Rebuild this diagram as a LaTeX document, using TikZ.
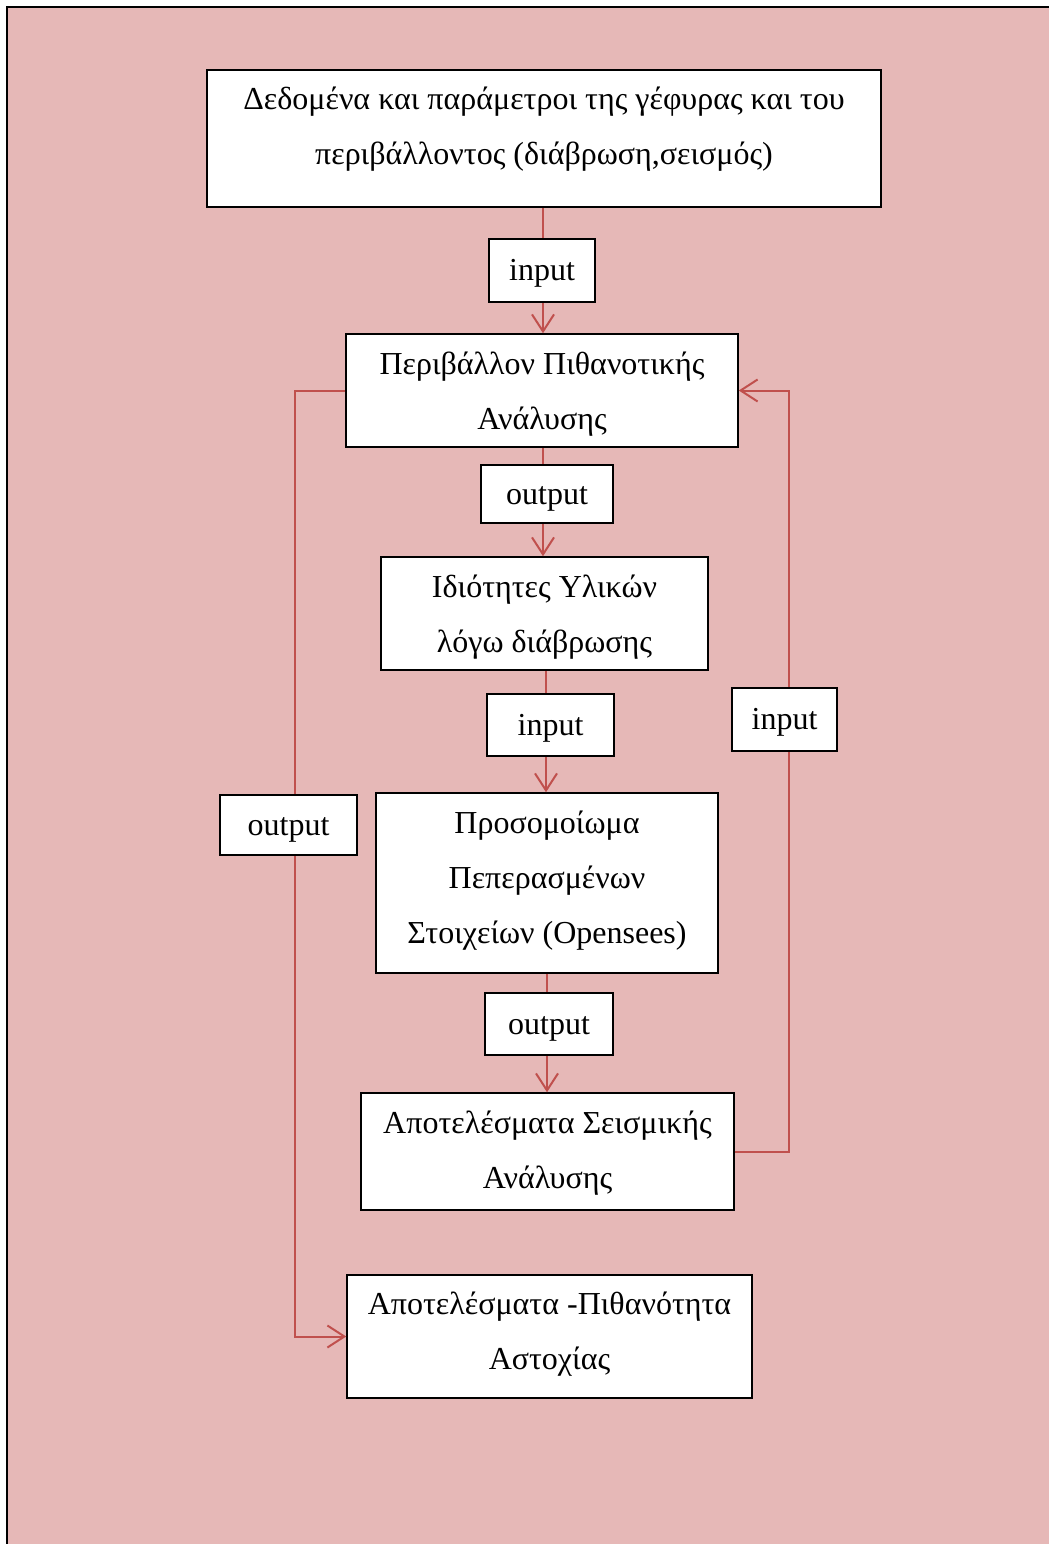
\documentclass[tikz,border=0pt]{standalone}
\usepackage{fontspec}
\setmainfont{Liberation Serif}
\usetikzlibrary{arrows.meta}
\definecolor{bgpink}{HTML}{E6B8B7}
\definecolor{linered}{HTML}{C0504D}
\newcommand\txtlines[1]{\begin{tabular}[t]{@{}c@{}}#1\end{tabular}}
\begin{document}
\begin{tikzpicture}[x=1pt,y=-1pt,
  box/.style={draw=black, line width=1.5pt, fill=white, inner sep=0pt,
    font=\fontsize{32}{55}\selectfont, text height=0pt},
  lbl/.style={draw=black, line width=1.5pt, fill=white, inner sep=0pt,
    font=\fontsize{32}{55}\selectfont, text height=20pt, text depth=0pt},
  conn/.style={draw=linered, line width=2pt, -{Straight Barb[length=17pt,width=22pt]}}
]
\useasboundingbox (0,0) rectangle (1049,1544);
\fill[bgpink] (8,8) rectangle (1049,1544);
\draw[line width=2.5pt, black] (7,1544) -- (7,7) -- (1049,7);

% boxes
\node[box, minimum width=674pt, minimum height=137pt, text depth=57pt] (top) at (544,138.5)
  {\txtlines{Δεδομένα και παράμετροι της γέφυρας και του\\περιβάλλοντος (διάβρωση,σεισμός)}};
\node[box, minimum width=392pt, minimum height=113pt, text depth=33pt] (b2) at (542,390.5)
  {\txtlines{Περιβάλλον Πιθανοτικής\\Ανάλυσης}};
\node[box, minimum width=327pt, minimum height=113pt, text depth=33pt] (b3) at (544.5,613.5)
  {\txtlines{Ιδιότητες Υλικών\\λόγω διάβρωσης}};
\node[box, minimum width=342pt, minimum height=180pt, text depth=100pt] (b4) at (547,883)
  {\txtlines{Προσομοίωμα\\Πεπερασμένων\\Στοιχείων (Opensees)}};
\node[box, minimum width=373pt, minimum height=117pt, text depth=37pt] (b5) at (547.5,1151.5)
  {\txtlines{Αποτελέσματα Σεισμικής\\Ανάλυσης}};
\node[box, minimum width=405pt, minimum height=123pt, text depth=45pt] (b6) at (549.5,1336.5)
  {\txtlines{Αποτελέσματα -Πιθανότητα\\Αστοχίας}};

% connector x positions
\coordinate (c1) at (543,270);
\coordinate (c2) at (543,494);
\coordinate (c3) at (546,725);
\coordinate (c4) at (547,1024);

% connectors
\draw[conn] (c1 |- top.south) -- (c1 |- b2.north);
\draw[conn] (c2 |- b2.south) -- (c2 |- b3.north);
\draw[conn] (c3 |- b3.south) -- (c3 |- b4.north);
\draw[conn] (c4 |- b4.south) -- (c4 |- b5.north);
\draw[conn] (b2.west) -- ++(-50,0) |- (b6.west);
\draw[conn] (b5.east) -- ++(54,0) |- (b2.east);

% labels on connectors
\node[lbl, minimum width=106pt, minimum height=63pt] (l1) at (542,270.5) {input};
\node[lbl, minimum width=132pt, minimum height=58pt] (l2) at (547,494) {output};
\node[lbl, minimum width=127pt, minimum height=62pt] (l3) at (550.5,725) {input};
\node[lbl, minimum width=128pt, minimum height=62pt] (l4) at (549,1024) {output};
\node[lbl, minimum width=137pt, minimum height=60pt] (l5) at (288.5,825) {output};
\node[lbl, minimum width=105pt, minimum height=63pt] (l6) at (784.5,719.5) {input};
\end{tikzpicture}
\end{document}
